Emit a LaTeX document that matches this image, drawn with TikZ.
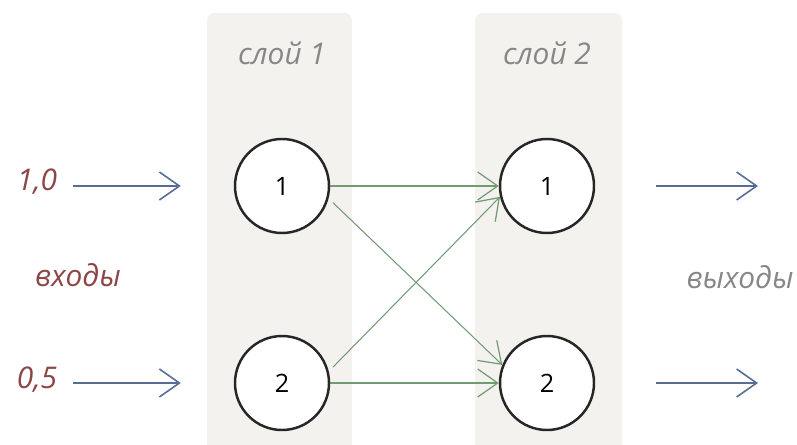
\documentclass[tikz,border=0pt]{standalone}
\usepackage{fontspec}
\setmainfont{Open Sans}
\usepackage{tikz}
\usetikzlibrary{arrows.meta,positioning,calc,backgrounds}
\usepackage{xcolor}
\definecolor{bandgray}{RGB}{244,242,239}
\definecolor{inred}{RGB}{140,70,70}
\definecolor{arrowblue}{RGB}{88,108,150}
\definecolor{linkgreen}{RGB}{115,155,115}
\definecolor{outgray}{RGB}{135,135,135}

\begin{document}
\begin{tikzpicture}[
    node distance=0.8cm,
    neuron/.style={circle, draw=black!85, line width=1.4pt, fill=white, minimum size=1.88cm, font=\Large},
    band/.style={fill=bandgray, rounded corners=4pt},
    layerlabel/.style={font=\fontsize{17}{20}\selectfont\itshape, text=outgray},
    value/.style={font=\fontsize{17}{20}\selectfont\itshape, text=inred},
    inarrow/.style={-{Straight Barb[length=0.4cm, width=0.56cm, line width=0.9pt]}, line width=0.8pt, arrowblue},
    link/.style={-{Straight Barb[length=0.4cm, width=0.56cm, line width=0.7pt]}, line width=0.6pt, linkgreen}
]
    \useasboundingbox (0,0) rectangle (15.94,8.88);

    % Layer bands
    \fill[band] (4.14,-0.2) rectangle (7.04,8.62);
    \fill[band] (9.50,-0.2) rectangle (12.44,8.62);
    \node[layerlabel] (l1) at (5.64,7.82) {слой 1};
    \node[layerlabel] (l2) at (10.94,7.82) {слой 2};

    % Neurons
    \node[neuron] (h1) at (5.64,5.16) {1};
    \node[neuron] (h2) at (5.64,1.22) {2};
    \node[neuron] (o1) at (10.94,5.16) {1};
    \node[neuron] (o2) at (10.94,1.22) {2};

    % Inputs
    \node[value] (x1) at (0.74,5.24) {1,0};
    \node[value] (x2) at (0.74,1.28) {0,5};
    \node[value] (inlbl) at (1.56,3.38) {входы};
    \draw[inarrow, shorten <=0.2cm, shorten >=1.06cm] (x1.east |- h1.west) -- (h1.west);
    \draw[inarrow, shorten <=0.2cm, shorten >=1.06cm] (x2.east |- h2.west) -- (h2.west);

    % Links
    \draw[link] (h1.east) -- (o1.west);
    \draw[link, shorten <=0.12cm] (h1.-15) -- (o2.158);
    \draw[link, shorten <=0.12cm] (h2.14) -- (o1.-167);
    \draw[link] (h2.east) -- (o2.west);

    % Outputs
    \coordinate (y1) at (15.16,5.16);
    \coordinate (y2) at (15.16,1.22);
    \draw[inarrow, shorten <=1.22cm] (o1.east) -- (y1);
    \draw[inarrow, shorten <=1.22cm] (o2.east) -- (y2);
    \node[layerlabel] (outlbl) at (14.8,3.34) {выходы};
\end{tikzpicture}
\end{document}
